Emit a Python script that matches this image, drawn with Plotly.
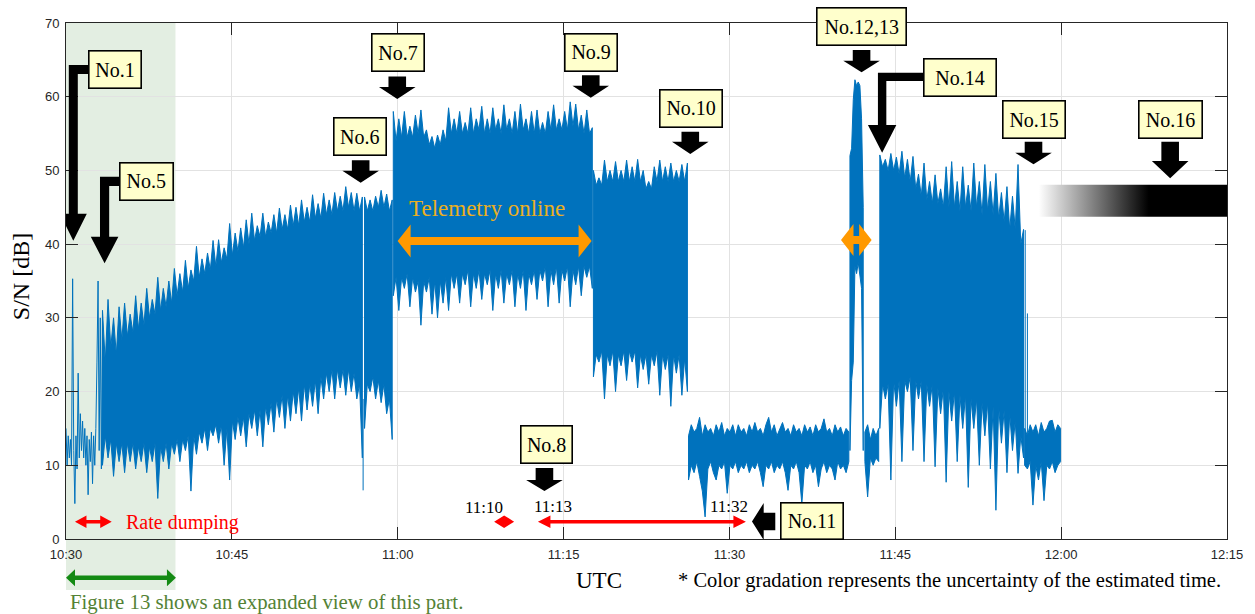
import plotly.graph_objects as go

# ------------------------------------------------------------------
# DATA  (time = minutes after 10:30 UTC, values = S/N in dB)
# ------------------------------------------------------------------
TICK_MIN = [0, 15, 30, 45, 60, 75, 90, 105]
TICK_LABELS = ["10:30", "10:45", "11:00", "11:15", "11:30", "11:45", "12:00", "12:15"]

# raw samples at the very start (every 0.1 min)
segA_start, segA_step = 0.0, 0.1
segA_val = [15, 10, 14, 11, 13.5, 10, 35.3, 12, 4.8, 14,
            9.5, 22.5, 11, 17, 12, 16, 11, 15, 10, 14,
            6, 13.5, 10.5, 14.5, 7.5, 14, 10, 15, 24, 35,
            12, 30, 9.5, 31]

# dense parts: upper / lower envelope (every 0.25 min)
segB1_start, segB1_step = 3.3, 0.25
segB1_hi = [31, 24, 32.5, 26, 30, 25, 31.5, 27, 32, 27.5,
            30.5, 28, 33, 28.5, 32, 29, 34, 30, 32.5, 30.5,
            35.5, 31, 34, 31.5, 35, 32, 36.7, 33, 36, 33.5,
            37.8, 34, 36.5, 35, 39.7, 35.5, 38, 36, 38.8, 36.5,
            40.5, 37, 40.6, 37.5, 39.5, 38, 42.8, 38.5, 41.5, 39,
            42.2, 39.5, 43.3, 40, 44.2, 40.5, 42.5, 41, 44.2, 41,
            43, 41.5, 44, 41.5, 44.9, 42, 44, 42, 45.3, 42.5,
            45, 42.5, 46, 43, 45, 43, 46.7, 43.5, 45.5, 43.5,
            46.9, 44, 46, 44, 47, 44.5, 46.5, 44.5, 47.8, 45,
            47, 44.5, 46.9, 44.5, 46.4]
segB1_lo = [10, 14, 11, 13.5, 8.5, 13, 10.5, 13, 9, 13,
            10.5, 13, 9.5, 12.5, 10.5, 13, 9, 12.5, 10.5, 13,
            5.5, 12.5, 10.5, 13, 9.5, 13, 11.5, 13.5, 10.5, 13.5,
            12, 14, 6.5, 14, 11.5, 14.5, 13, 15, 12, 15,
            14, 15.5, 13, 15.5, 10, 15, 8, 16, 13.5, 16.5,
            14, 16.5, 12.5, 17, 15, 17.5, 14, 17.5, 12.5, 18,
            15.5, 18.5, 14.5, 19, 16.5, 19.5, 15, 19.5, 16, 20,
            17, 20.5, 16, 21, 17.5, 21, 18, 21.5, 17, 22,
            19, 22.5, 20, 23, 19, 23, 20.5, 23, 19.5, 23,
            20, 22.5, 19, 21, 11]

segB2_start, segB2_step = 27.0, 0.25
segB2_hi = [46.4, 44.5, 46, 44.5, 46.5, 45, 47.3, 45, 46.8, 44.5, 46]
segB2_lo = [15, 21, 20, 22, 19, 21.5, 18.5, 21, 17, 19, 13.5]

segC_start, segC_step = 29.6, 0.25
segC_hi = [58, 54, 57, 54.5, 58, 54.5, 56, 54.5, 57.5, 55,
           58.2, 54.5, 55.5, 53.5, 54.6, 53, 54.8, 53.5, 55.5, 54,
           58.5, 55, 57, 55, 58, 55, 56.5, 55, 58.5, 55,
           57, 55.5, 58.7, 55, 57, 55, 58.5, 55.5, 57, 55,
           58.9, 55.5, 57, 55, 58, 55, 59, 55.5, 57, 55,
           58, 55, 58.2, 55, 56.5, 55, 58, 55.5, 58.9, 55.5,
           57, 55.5, 58, 55.5, 59.3, 56, 59, 55.5, 57.5, 55,
           58.2, 55, 55.8]
segC_lo = [33, 35.5, 31, 35.5, 34, 36, 31.5, 35.5, 33.5, 35,
           29, 35, 33.5, 35.5, 30.5, 35, 30, 35, 32, 35.5,
           31, 36, 34, 36, 32, 36, 34.5, 36.5, 31.5, 36,
           34, 36.5, 32.5, 36, 34.5, 36.5, 31, 36, 34, 36.5,
           32, 36, 34.5, 36.5, 31.5, 36, 34, 36.5, 31, 36,
           34.5, 36.5, 32.5, 36.5, 35, 37, 31.5, 36.5, 34.5, 37,
           32, 36.5, 35, 37, 31.5, 36.5, 34.5, 37, 33, 37,
           35.5, 37, 34]

segD_start, segD_step = 47.7, 0.25
segD_hi = [50, 48, 49, 48, 51.4, 48.5, 50, 48.5, 51.2, 48.5,
           50, 48.5, 51.4, 48.5, 50.5, 48.5, 51.5, 48.5, 50, 47.5,
           48.5, 47.5, 50.5, 48.5, 51.4, 48.5, 50.5, 48.5, 51, 48.5,
           50, 48.5, 50.8, 48.5, 51]
segD_lo = [22, 25, 24, 25.5, 19, 25, 23.5, 25.5, 20, 25,
           23.5, 25.5, 21.5, 25.5, 24, 25.5, 20.5, 25, 23, 25,
           21, 25, 23.5, 25.5, 19.5, 25, 23, 25, 18, 25,
           22.5, 25, 19.5, 24.5, 20]

segE_start, segE_step = 56.3, 0.25
segE_hi = [14, 15.5, 14.5, 15, 16.5, 14, 15.5, 14.5, 15, 14,
           15.5, 14.5, 15.8, 14, 15, 14.5, 15.5, 14, 15.5, 14.5,
           15, 14, 15.5, 14.5, 15.8, 14.5, 15, 14, 15.5, 16.5,
           14.5, 15.5, 14, 15, 15.8, 14.5, 15, 14, 15.5, 14.5,
           15, 14, 15.5, 14.5, 15.2, 14, 15.5, 14.5, 15, 16.3,
           14.5, 15, 14, 15.5, 14.5, 15.2, 14, 15, 14.5]
segE_lo = [8, 10, 9, 10.5, 8.5, 6.5, 3, 9.5, 10.5, 9,
           8, 10, 9.5, 10.5, 6.2, 10, 9.5, 10.5, 9, 10,
           9.5, 10.5, 9, 10, 9.5, 10.5, 9, 7.1, 10, 9.5,
           10.5, 9, 10, 9.5, 10.5, 9, 6.6, 10, 9.5, 10.5,
           9, 4.8, 10, 9.5, 10.5, 9, 10, 7.1, 9.5, 10.5,
           9, 10, 9.5, 8, 10.5, 9.5, 10, 9, 10.5]

segF_start, segF_step = 70.9, 0.15
segF_hi = [52, 53, 59.6, 62.3, 61.5, 62, 61.5, 57, 45]
segF_lo = [12, 21.5, 24, 37, 36, 37.5, 35.5, 34, 12]

segG_start, segG_step = 72.25, 0.25
segG_hi = [14.5, 15.5, 13.5, 15, 14, 15]
segG_lo = [10.5, 5.7, 11, 10, 11, 10.5]

segH_start, segH_step = 73.6, 0.25
segH_hi = [52.1, 50.5, 51.5, 50, 52.3, 50, 51.8, 49.5, 52.6, 49,
           51.5, 48.5, 51.9, 47.5, 49.5, 46.5, 51, 46, 48.5, 45.5,
           49.4, 45.5, 47.5, 45, 50.5, 45, 51.2, 45, 48.5, 44.5,
           50.5, 45, 48, 44.5, 51, 45, 48.5, 44, 50.8, 44.5,
           48.5, 44, 49.6, 43.5, 47, 43, 47.8, 42, 46.5, 42,
           50.8, 40, 42]
segH_lo = [15, 21, 19, 21, 8, 21.5, 18, 21.5, 10.5, 21.5,
           20, 22, 12, 21.5, 19, 21.5, 10.5, 21, 18, 21,
           9.8, 20.5, 17, 20.5, 7.7, 20, 16, 20, 10.5, 19.5,
           15, 19.5, 7, 19, 15, 19, 10, 18.5, 14, 18.5,
           9.5, 18, 3.9, 18, 13, 17.5, 9, 17, 12, 16,
           8.9, 14, 11]

segI_start, segI_step = 86.7, 0.25
segI_hi = [15, 14, 15.5, 14.5, 15.5, 14, 15.8, 14.5, 15, 16, 16.1, 14.5, 15.5, 15]
segI_lo = [10, 9.5, 10.5, 4.6, 10, 8, 10.5, 5.2, 10, 9.5, 10.5, 9, 10, 10.5]

# single isolated strokes
stroke_t = [26.87, 86.75, 86.95]
stroke_lo = [6.6, 10, 10]
stroke_hi = [19, 41.9, 30.6]

# events (tip of each black arrow)
ev_label = ["No.1", "No.5", "No.6", "No.7", "No.8", "No.9", "No.10",
            "No.11", "No.12,13", "No.14", "No.15", "No.16"]
ev_time = [0.66, 3.49, 26.65, 29.96, 43.27, 47.46, 56.46, 62.04, 71.95, 73.81, 87.50, 99.86]
ev_db = [40.47, 37.40, 48.34, 59.69, 6.51, 59.87, 52.23, 2.37, 63.31, 52.41, 50.83, 48.93]

# uncertainty band of No.16 (time span of gradient, dB span)
unc_t = [87.6, 105.0]
unc_black_from = 97.5
unc_db = [43.7, 48.05]

# time spans marked by arrows
rate_dump_span = [0.81, 4.12]
span_1110 = [38.72, 40.52]
span_1113_1132 = [42.68, 61.41]
telemetry_span = [29.99, 47.46]
telemetry2_span = [70.09, 72.85]
expanded_span = [0.0, 9.9]

# ------------------------------------------------------------------
# STYLE / LAYOUT
# ------------------------------------------------------------------
W, H = 1255, 614
ML, MR, MT, MB = 66, 23, 23, 75
PW, PH = W - ML - MR, H - MT - MB
XMAX, YMAX = 105, 70
PXM = PW / XMAX       # px per minute
BLUE = "#0072BD"
SERIF = "Liberation Serif"
SANS = "Liberation Sans"

fig = go.Figure()


def seg_times(start, step, n):
    return [start + i * step for i in range(n)]


# shading behind the first ten minutes
shapes = [dict(type="rect", xref="paper", yref="paper",
               x0=expanded_span[0] / XMAX, x1=expanded_span[1] / XMAX,
               y0=-(590 - (MT + PH)) / PH, y1=1,
               fillcolor="#E3EEE2", line=dict(width=0), layer="below")]

# raw start
tA = seg_times(segA_start, segA_step, len(segA_val))
fig.add_trace(go.Scatter(x=tA, y=segA_val, mode="lines",
                         line=dict(color=BLUE, width=1), hoverinfo="skip"))

bands = [(segB1_start, segB1_step, segB1_hi, segB1_lo),
         (segB2_start, segB2_step, segB2_hi, segB2_lo),
         (segC_start, segC_step, segC_hi, segC_lo),
         (segD_start, segD_step, segD_hi, segD_lo),
         (segE_start, segE_step, segE_hi, segE_lo),
         (segF_start, segF_step, segF_hi, segF_lo),
         (segG_start, segG_step, segG_hi, segG_lo),
         (segH_start, segH_step, segH_hi, segH_lo),
         (segI_start, segI_step, segI_hi, segI_lo)]
for start, step, hi, lo in bands:
    n = min(len(hi), len(lo))
    t = seg_times(start, step, n)
    xs = t + t[::-1] + [t[0]]
    ys = list(hi[:n]) + list(lo[:n])[::-1] + [hi[0]]
    fig.add_trace(go.Scatter(x=xs, y=ys, mode="lines", fill="toself",
                             fillcolor=BLUE, line=dict(color=BLUE, width=1),
                             hoverinfo="skip"))

sx, sy = [], []
for t, lo, hi in zip(stroke_t, stroke_lo, stroke_hi):
    sx += [t, t, None]
    sy += [lo, hi, None]
fig.add_trace(go.Scatter(x=sx, y=sy, mode="lines", line=dict(color=BLUE, width=1),
                         hoverinfo="skip"))

# gradient bar (No.16 time uncertainty)
fig.add_trace(go.Scatter(
    x=[unc_t[0], unc_t[1], unc_t[1], unc_t[0], unc_t[0]],
    y=[unc_db[0], unc_db[0], unc_db[1], unc_db[1], unc_db[0]],
    mode="lines", fill="toself", line=dict(width=0, color="rgba(0,0,0,0)"),
    fillgradient=dict(type="horizontal", colorscale=[[0, "rgba(255,255,255,1)"], [1, "black"]],
                      start=unc_t[0], stop=unc_black_from),
    hoverinfo="skip"))


def path_of(pts):
    return "M " + " L ".join(f"{x:.2f} {y:.2f}" for x, y in pts) + " Z"


def pix_shape(ax, ay, pts, color, xref="x", yref="y"):
    return dict(type="path", xref=xref, yref=yref, xsizemode="pixel", ysizemode="pixel",
                xanchor=ax, yanchor=ay, path=path_of(pts), fillcolor=color,
                line=dict(width=0), layer="above")


def down_arrow(head_l=12, shaft_l=10.5, head_w=36.6, shaft_w=17.6):
    hw, sw = head_w / 2, shaft_w / 2
    return [(0, 0), (hw, head_l), (sw, head_l), (sw, head_l + shaft_l),
            (-sw, head_l + shaft_l), (-sw, head_l), (-hw, head_l)]


def elbow_arrow(head_l, head_w, shaft_w, top, right):
    hw, sw = head_w / 2, shaft_w / 2
    return [(0, 0), (hw, head_l), (sw, head_l), (sw, top - shaft_w), (right, top - shaft_w),
            (right, top), (-sw, top), (-sw, head_l), (-hw, head_l)]


def double_harrow(length_px, shaft_t, head_l, head_h):
    L, t, h = length_px, shaft_t / 2, head_h / 2
    return [(0, 0), (head_l, h), (head_l, t), (L - head_l, t), (L - head_l, h), (L, 0),
            (L - head_l, -h), (L - head_l, -t), (head_l, -t), (head_l, -h)]


# event boxes: dx, dy (px from tip to box centre), width, height, arrow shape
ev_style = {
    "No.1": (41.4, 171.2, 54, 39, elbow_arrow(27, 27, 9, 175.7, 16)),
    "No.5": (41.6, 81.6, 54.7, 38.7, elbow_arrow(26.6, 27.6, 9.2, 86.6, 16)),
    "No.6": (-1.1, 46.3, 53.7, 39.3, down_arrow()),
    "No.7": (1.0, 46.2, 54, 39, down_arrow()),
    "No.8": (1.8, 46.5, 53.3, 39, down_arrow(11, 12)),
    "No.9": (-0.2, 45.0, 54.3, 38.7, down_arrow()),
    "No.10": (0.8, 45.6, 64.3, 38.7, down_arrow(12.3, 10)),
    "No.11": (60.0, 0.5, 64, 38.3,
              [(0, 0), (11.7, 18.5), (11.7, 8.8), (23.3, 8.8), (23.3, -8.8), (11.7, -8.8), (11.7, -18.5)]),
    "No.12,13": (0.0, 46.0, 91.4, 39.3, down_arrow(11.6, 10.7)),
    "No.14": (78.0, 75.3, 74, 39.3, elbow_arrow(27.7, 28.4, 8.4, 80, 42)),
    "No.15": (0.15, 44.8, 64.3, 39, down_arrow(11.6, 11)),
    "No.16": (0.2, 58.8, 65, 39, down_arrow(17.3, 19.3)),
}

annotations = []
BW = 1.6
for lab, t, db in zip(ev_label, ev_time, ev_db):
    dx, dy, bw, bh, arrow = ev_style[lab]
    shapes.append(pix_shape(t, db, arrow, "black"))
    annotations.append(dict(x=t, y=db, xref="x", yref="y", xshift=dx, yshift=dy,
                            text=lab, showarrow=False, xanchor="center", yanchor="middle",
                            font=dict(family=SERIF, size=20, color="black"),
                            bgcolor="#FFFFCC", bordercolor="black", borderwidth=BW, borderpad=0,
                            width=bw - 2 * BW, height=bh - 2 * BW, align="center", valign="middle"))

# horizontal double arrows
RED_Y = 2.35
for span, color, y, st, hl, hh in [
        (rate_dump_span, "#FF0000", RED_Y, 3.4, 11.5, 12.5),
        (span_1110, "#FF0000", RED_Y, 3.4, 10, 12.5),
        (span_1113_1132, "#FF0000", RED_Y, 3.4, 12.5, 12.5),
        (telemetry_span, "#FF9900", 40.43, 8, 13, 33),
        (telemetry2_span, "#FF9900", 40.57, 8, 12.5, 32)]:
    L = (span[1] - span[0]) * PXM
    shapes.append(pix_shape(span[0], y, double_harrow(L, st, hl, hh), color))

# green arrow below the axis
green_y = -(577.7 - (MT + PH)) / PH
shapes.append(pix_shape(expanded_span[0] / XMAX, green_y,
                        double_harrow((expanded_span[1] - expanded_span[0]) * PXM, 4.5, 9, 17),
                        "#138A13", xref="paper", yref="paper"))


def txt(text, x, y, size, color="black", xref="x", yref="y", xanchor="center", **kw):
    d = dict(text=text, x=x, y=y, xref=xref, yref=yref, showarrow=False, xanchor=xanchor,
             yanchor="middle", font=dict(family=SERIF, size=size, color=color))
    d.update(kw)
    return d


annotations += [
    txt("Rate dumping", 5.22, 2.2, 20, "#FF0000", xanchor="left"),
    txt("11:10", 37.8, 4.3, 17),
    txt("11:13", 44.0, 4.4, 17),
    txt("11:32", 59.95, 4.4, 17),
    txt("Telemetry online", 38.03, 44.77, 23, "#EBAF1E"),
    txt("UTC", (601 - ML) / PW, -(580 - (MT + PH)) / PH, 23, xref="paper", yref="paper"),
    txt("* Color gradation represents the uncertainty of the estimated time.",
        (1228 - ML) / PW, -(580 - (MT + PH)) / PH, 20.5, xref="paper", yref="paper", xanchor="right"),
    txt("Figure 13 shows an expanded view of this part.",
        (68 - ML) / PW, -(602 - (MT + PH)) / PH, 20.8, "#548235", xref="paper", yref="paper",
        xanchor="left"),
    txt("S/N [dB]", (21 - ML) / PW, (MT + PH - 277) / PH, 24, xref="paper", yref="paper",
        textangle=-90),
]

axis_common = dict(ticks="inside", ticklen=12, tickwidth=1, tickcolor="#262626",
                   showline=True, linecolor="#262626", linewidth=1, mirror="ticks",
                   showgrid=True, gridcolor="#E2E2E2", gridwidth=1, zeroline=False,
                   ticklabelstandoff=3,
                   tickfont=dict(family=SANS, size=13, color="#262626"))

fig.update_layout(
    width=W, height=H, margin=dict(l=ML, r=MR, t=MT, b=MB),
    paper_bgcolor="white", plot_bgcolor="rgba(0,0,0,0)", showlegend=False,
    xaxis=dict(range=[0, XMAX], tickvals=TICK_MIN, ticktext=TICK_LABELS, **axis_common),
    yaxis=dict(range=[0, YMAX], dtick=10, **axis_common),
    shapes=shapes, annotations=annotations,
)

fig.write_html("out.html", config={"displayModeBar": False},
               post_script="document.body.style.margin='0';")
